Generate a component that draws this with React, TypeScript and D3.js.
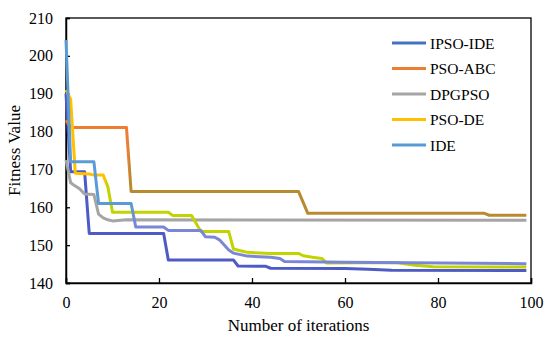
import { useEffect, useRef } from 'react';
import * as d3 from 'd3';

// iteration / fitness pairs
const ipsoIde = [[0, 190], [1, 169.4], [4, 169.4], [5, 153.1], [21, 153.1], [22, 146.1], [36, 146.1], [37, 144.5], [43, 144.4], [44, 143.9], [60, 143.8], [65, 143.6], [70, 143.4], [99, 143.3]];
const psoAbc = [[0, 183], [1, 181.1], [13, 181.1], [14, 164.2], [50, 164.2], [52, 158.4], [90, 158.4], [91, 157.9], [99, 157.9]];
const dpgpso = [[0, 172.5], [1, 166.5], [2, 165.6], [3, 164.8], [4, 163.5], [6, 163.4], [7, 158.2], [8, 157.2], [9, 156.7], [10, 156.4], [13, 156.7], [99, 156.6]];
const psoDe = [[0, 191], [1, 188.5], [2, 169], [5, 168.8], [6, 168.5], [8, 168.5], [9, 165.4], [10, 158.7], [22, 158.7], [23, 157.8], [27, 157.8], [29, 153.6], [35, 153.6], [36, 149], [38, 148.4], [39, 148.1], [44, 147.8], [50, 147.8], [51, 147.2], [53, 146.8], [55, 146.5], [56, 145.3], [71, 145.4], [75, 144.7], [79, 144.3], [99, 144.2]];
const ide = [[0, 204.2], [1, 172], [6, 172], [7, 161], [14, 161], [15, 154.8], [21, 154.8], [22, 153.9], [29, 153.9], [30, 152.2], [32, 152.1], [33, 151.4], [35, 148.7], [36, 147.9], [39, 147.1], [44, 146.8], [46, 146.5], [47, 145.7], [60, 145.5], [99, 145.1]];

const seriesNames = ['IPSO-IDE', 'PSO-ABC', 'DPGPSO', 'PSO-DE', 'IDE'];
const seriesData = [ipsoIde, psoAbc, dpgpso, psoDe, ide];
const legendColors = ['#4472C4', '#ED7D31', '#A5A5A5', '#FFC000', '#5B9BD5'];
// the plotted lines shift hue after a given iteration in the reference
const lineColors = [['#4F5BC5', '#4F5BC5'], ['#ED7D31', '#B98B30'], ['#A5A5A5', '#A5A5A5'], ['#FFC000', '#C2D300'], ['#5B9BD5', '#7A87D6']];
const colorSwitch = [0, 13.5, 0, 8.6, 14.5];

const iterTicks = [0, 20, 40, 60, 80, 100];
const valueTicks = [140, 150, 160, 170, 180, 190, 200, 210];

const App = () => {
  const ref = useRef(null);

  useEffect(() => {
    const W = 550, H = 345;
    const margin = { top: 18, right: 19, bottom: 62, left: 66 };
    const width = W - margin.left - margin.right;
    const height = H - margin.top - margin.bottom;
    const font = '"Liberation Serif", "Times New Roman", serif';

    d3.select(ref.current).selectAll('svg').remove();

    const svg = d3.select(ref.current)
      .append('svg')
      .attr('width', W)
      .attr('height', H)
      .style('position', 'absolute')
      .style('left', '0px')
      .style('top', '0px')
      .style('background', '#fff');

    const x = d3.scaleLinear().domain([0, 100]).range([margin.left, margin.left + width]);
    const y = d3.scaleLinear().domain([140, 210]).range([margin.top + height, margin.top]);

    // gradients for the colour change along each line
    const defs = svg.append('defs');
    seriesNames.forEach((n, i) => {
      const g = defs.append('linearGradient')
        .attr('id', `grad${i}`)
        .attr('gradientUnits', 'userSpaceOnUse')
        .attr('x1', x(0)).attr('x2', x(100))
        .attr('y1', 0).attr('y2', 0);
      const off = colorSwitch[i] / 100;
      g.append('stop').attr('offset', off).attr('stop-color', lineColors[i][0]);
      g.append('stop').attr('offset', off).attr('stop-color', lineColors[i][1]);
    });

    // frame
    svg.append('rect')
      .attr('x', margin.left).attr('y', margin.top)
      .attr('width', width).attr('height', height)
      .attr('fill', 'none').attr('stroke', '#000').attr('stroke-width', 1.3);

    // axes, ticks inward
    const xAxis = svg.append('g')
      .attr('transform', `translate(0,${margin.top + height})`)
      .call(d3.axisBottom(x).tickValues(iterTicks).tickSize(-5).tickPadding(14).tickFormat(d3.format('d')));
    const yAxis = svg.append('g')
      .attr('transform', `translate(${margin.left},0)`)
      .call(d3.axisLeft(y).tickValues(valueTicks).tickSize(-4).tickPadding(13).tickFormat(d3.format('d')));
    [xAxis, yAxis].forEach(a => {
      a.select('.domain').attr('stroke', '#000').attr('stroke-width', 1.5);
      a.selectAll('line').attr('stroke', '#000').attr('stroke-width', 1.3);
      a.selectAll('text').attr('fill', '#000').style('font-family', font).style('font-size', '16px');
    });

    // lines
    const line = d3.line().x(d => x(d[0])).y(d => y(d[1]));
    seriesData.forEach((s, i) => {
      svg.append('path')
        .datum(s)
        .attr('fill', 'none')
        .attr('stroke', `url(#grad${i})`)
        .attr('stroke-width', 3)
        .attr('stroke-linejoin', 'round')
        .attr('d', line);
    });

    // legend
    const legend = svg.append('g');
    seriesNames.forEach((n, i) => {
      const ly = 43 + i * 25.5;
      legend.append('line')
        .attr('x1', 392).attr('x2', 426).attr('y1', ly).attr('y2', ly)
        .attr('stroke', legendColors[i]).attr('stroke-width', 3);
      legend.append('text')
        .attr('x', 430).attr('y', ly + 5.5)
        .style('font-family', font).style('font-size', '15.5px')
        .text(n);
    });

    // axis titles
    svg.append('text')
      .attr('x', margin.left + width / 2).attr('y', 331)
      .attr('text-anchor', 'middle')
      .style('font-family', font).style('font-size', '17px')
      .text('Number of iterations');
    svg.append('text')
      .attr('transform', `translate(20,${margin.top + height / 2}) rotate(-90)`)
      .attr('text-anchor', 'middle')
      .style('font-family', font).style('font-size', '17px')
      .text('Fitness Value');
  }, []);

  return <div ref={ref}></div>;
};

export default App;
